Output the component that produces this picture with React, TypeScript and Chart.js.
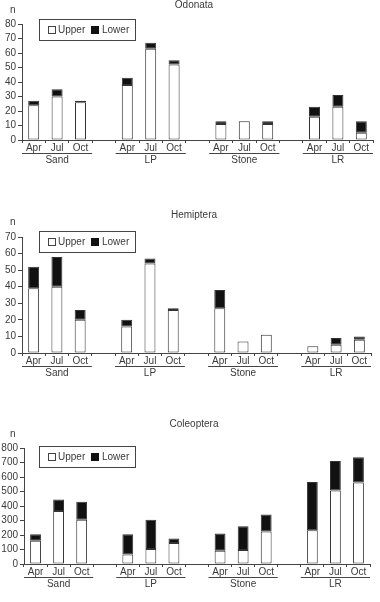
import React, { useEffect, useRef } from "react";
import { Chart, registerables } from "chart.js";

Chart.register(...registerables);

const MONTHS = ["Apr", "Jul", "Oct"];
const SITES = ["Sand", "LP", "Stone", "LR"];
const SERIES = ["Upper", "Lower"];

// values per site/month: Sand Apr, Jul, Oct, LP ..., Stone ..., LR ...
const odonataUpper = [24, 30, 26, 38, 63, 52, 11, 13, 11, 16, 23, 5];
const odonataLower = [3, 5, 1, 5, 4, 3, 2, 0, 2, 7, 8, 8];
const hemipteraUpper = [39, 40, 20, 16, 54, 26, 27, 7, 11, 4, 5, 8];
const hemipteraLower = [13, 18, 6, 4, 3, 1, 11, 0, 0, 0, 4, 2];
const coleopteraUpper = [160, 365, 305, 66, 103, 144, 92, 96, 224, 233, 507, 562];
const coleopteraLower = [45, 80, 125, 140, 203, 32, 118, 165, 117, 332, 204, 174];

const FONT = '"Liberation Sans", Arial, sans-serif';
const TEXT = "#3a3a3a";
const LINE = "#444";

// expand to 15 slots with an empty slot between sites
function labelsWithGaps(): string[] {
  const out: string[] = [];
  SITES.forEach((_, i) => {
    MONTHS.forEach((m) => out.push(m));
    if (i < SITES.length - 1) out.push("");
  });
  return out;
}
function valuesWithGaps(vals: number[]): (number | null)[] {
  const out: (number | null)[] = [];
  SITES.forEach((_, i) => {
    MONTHS.forEach((__, j) => out.push(vals[i * MONTHS.length + j]));
    if (i < SITES.length - 1) out.push(null);
  });
  return out;
}

type Cfg = {
  title: string;
  upper: number[];
  lower: number[];
  max: number;
  step: number;
  top: number;
  height: number;
  padTop: number;
  padRight: number;
  xH: number;
  yW: number;
  titleY: number;
  nY: number;
  legendTop: number;
};

const CHARTS: Cfg[] = [
  { title: "Odonata", upper: odonataUpper, lower: odonataLower, max: 80, step: 10, top: 0, height: 180, padTop: 24, padRight: 7, xH: 40, yW: 22, titleY: 5, nY: 10, legendTop: 19 },
  { title: "Hemiptera", upper: hemipteraUpper, lower: hemipteraLower, max: 70, step: 10, top: 190, height: 200, padTop: 47, padRight: 9, xH: 37, yW: 22, titleY: 25, nY: 32, legendTop: 41 },
  { title: "Coleoptera", upper: coleopteraUpper, lower: coleopteraLower, max: 800, step: 100, top: 400, height: 202, padTop: 48, padRight: 10, xH: 38, yW: 24, titleY: 24, nY: 34, legendTop: 46 },
];

function BarChart({ cfg }: { cfg: Cfg }) {
  const ref = useRef<HTMLCanvasElement | null>(null);
  useEffect(() => {
    if (!ref.current) return;
    const labels = labelsWithGaps();
    const overlay = {
      id: "overlay",
      afterDraw(chart: any) {
        const ctx = chart.ctx;
        const x = chart.scales.x;
        const area = chart.chartArea;
        ctx.save();
        ctx.font = `10px ${FONT}`;
        ctx.fillStyle = TEXT;
        ctx.textBaseline = "middle";
        ctx.textAlign = "center";
        ctx.fillText(cfg.title, 194, cfg.titleY);
        ctx.textAlign = "left";
        ctx.fillText("n", 10, cfg.nY);
        // legend box
        const lt = cfg.legendTop;
        ctx.strokeStyle = LINE;
        ctx.lineWidth = 1;
        ctx.strokeRect(39.5, lt + 0.5, 96, 21);
        const cy = lt + 11;
        ctx.fillStyle = "#fff";
        ctx.fillRect(48, cy - 4, 8, 8);
        ctx.strokeRect(48.5, cy - 3.5, 7, 7);
        ctx.fillStyle = "#111";
        ctx.fillRect(91, cy - 4, 8, 8);
        ctx.fillStyle = TEXT;
        ctx.fillText(SERIES[0], 58, cy);
        ctx.fillText(SERIES[1], 102, cy);
        // group underlines + labels
        const w = x.width / labels.length;
        ctx.textAlign = "center";
        SITES.forEach((s, i) => {
          const start = x.left + i * (MONTHS.length + 1) * w;
          const end = start + MONTHS.length * w;
          const ly = Math.round(area.bottom + 13) + 0.5;
          ctx.beginPath();
          ctx.moveTo(start, ly);
          ctx.lineTo(end, ly);
          ctx.stroke();
          ctx.fillText(s, (start + end) / 2, area.bottom + 20.5);
        });
        ctx.restore();
      },
    };
    const ds = (label: string, vals: number[], bg: string) => ({
      label,
      data: valuesWithGaps(vals),
      backgroundColor: bg,
      borderColor: "#333",
      borderWidth: 1,
      borderSkipped: false,
      barPercentage: 0.47,
      categoryPercentage: 1,
    });
    const chart = new Chart(ref.current, {
      type: "bar",
      data: {
        labels,
        datasets: [ds(SERIES[0], cfg.upper, "#ffffff"), ds(SERIES[1], cfg.lower, "#111111")],
      },
      options: {
        responsive: false,
        animation: false,
        layout: { padding: { top: cfg.padTop, right: cfg.padRight, left: 0, bottom: 0 } },
        plugins: { legend: { display: false }, title: { display: false }, tooltip: { enabled: false } },
        scales: {
          x: {
            stacked: true,
            grid: { offset: true, drawOnChartArea: false, drawTicks: true, tickLength: 3, color: LINE },
            border: { display: true, color: LINE },
            ticks: { padding: -1, color: TEXT, font: { family: FONT, size: 10 }, autoSkip: false, maxRotation: 0 },
            afterFit: (s: any) => {
              s.height = cfg.xH;
            },
          },
          y: {
            stacked: true,
            min: 0,
            max: cfg.max,
            ticks: { stepSize: cfg.step, padding: 2, autoSkip: false, color: TEXT, font: { family: FONT, size: 10 } },
            grid: { drawOnChartArea: false, drawTicks: true, tickLength: 4, color: LINE },
            border: { display: true, color: LINE },
            afterFit: (s: any) => {
              s.width = cfg.yW;
            },
          },
        },
      } as any,
      plugins: [overlay],
    });
    return () => chart.destroy();
  }, [cfg]);
  return (
    <div style={{ position: "absolute", left: 0, top: cfg.top, width: 380, height: cfg.height }}>
      <canvas ref={ref} width={380} height={cfg.height} style={{ width: 380, height: cfg.height, display: "block" }} />
    </div>
  );
}

export default function App() {
  return (
    <div style={{ position: "absolute", left: 0, top: 0, width: 380, height: 602, background: "#fff" }}>
      {CHARTS.map((c) => (
        <BarChart key={c.title} cfg={c} />
      ))}
    </div>
  );
}
